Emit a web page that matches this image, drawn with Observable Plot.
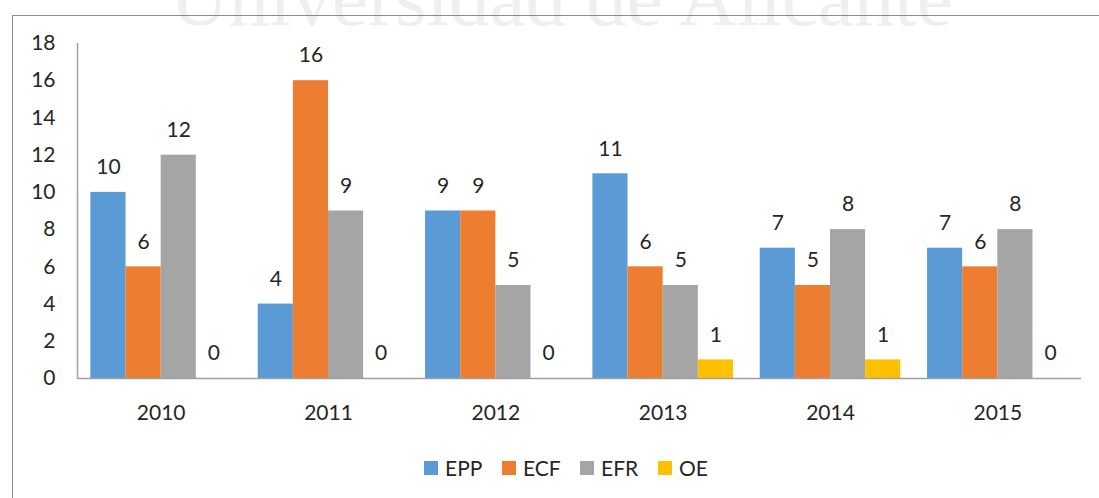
<!DOCTYPE html>
<html>
<head>
<meta charset="utf-8">
<script src="https://cdn.jsdelivr.net/npm/d3@7"></script>
<script src="https://cdn.jsdelivr.net/npm/@observablehq/plot@0.6"></script>
<style>
  body { margin: 0; background: #fff; }
  #wrap { position: relative; width: 1099px; height: 498px; overflow: hidden; font-family: Lato, "Open Sans", sans-serif; }
  #frame { position: absolute; left: 12px; top: 15px; right: -5px; bottom: -5px; border-top: 1.5px solid #8c8c8c; border-left: 1.5px solid #8c8c8c; }
  #watermark { position: absolute; left: 170px; top: -42px; font-family: "Liberation Serif", serif; font-size: 81px; line-height: 81px; color: #efefef; white-space: nowrap; }
  #chart { position: absolute; left: 0; top: 0; }
  #legend { position: absolute; left: 424px; top: 455px; display: flex; align-items: center; font-size: 21px; color: #262626; }
  #legend .item { width: 78px; display: flex; align-items: center; }
  #legend .sw { width: 14px; height: 14px; margin-right: 7px; }
</style>
</head>
<body>
<div id="wrap">
  <div id="watermark">Universidad de Alicante</div>
  <div id="frame"></div>
  <div id="chart"></div>
  <div id="legend"></div>
</div>
<script>
const years = ["2010", "2011", "2012", "2013", "2014", "2015"];
const series = ["EPP", "ECF", "EFR", "OE"];
const EPP = [10, 4, 9, 11, 7, 7];
const ECF = [6, 16, 9, 6, 5, 6];
const EFR = [12, 9, 5, 5, 8, 8];
const OE  = [0, 0, 0, 1, 1, 0];
const colors = ["#5B9BD5", "#ED7D31", "#A5A5A5", "#FFC000"];
const yTicks = [0, 2, 4, 6, 8, 10, 12, 14, 16, 18];

const valuesBySeries = { EPP, ECF, EFR, OE };
const data = years.flatMap((year, i) =>
  series.map((s, k) => ({ year, i, k, series: s, value: valuesBySeries[s][i] }))
);

const barW = 0.21;
const x1 = d => d.i - 0.42 + d.k * barW;
const x2 = d => x1(d) + barW;
const xm = d => x1(d) + barW / 2;

const chart = Plot.plot({
  width: 1099,
  height: 440,
  marginLeft: 77,
  marginRight: 18,
  marginTop: 43,
  marginBottom: 62,
  style: { background: "transparent", fontFamily: "Lato, 'Open Sans', sans-serif", color: "#262626" },
  x: { type: "linear", domain: [-0.5, 5.5] },
  y: { domain: [0, 18] },
  color: { domain: series, range: colors },
  marks: [
    Plot.rectY(data, { x1, x2, y: "value", fill: "series" }),
    Plot.ruleY([0], { stroke: "#a0a0a0", strokeWidth: 1.5 }),
    Plot.ruleX([-0.5], { stroke: "#a0a0a0", strokeWidth: 1.5 }),
    Plot.text(data, { x: xm, y: "value", text: d => String(d.value), dy: -25, fontSize: 21, fill: "#262626" }),
    Plot.axisY({ ticks: yTicks, tickSize: 0, tickPadding: 22, fontSize: 21, fill: "#262626", label: null, tickFormat: d => String(d) }),
    Plot.axisX({ ticks: d3.range(years.length), tickSize: 0, tickPadding: 27, fontSize: 21, fill: "#262626", label: null, tickFormat: i => years[i] })
  ]
});
document.getElementById("chart").appendChild(chart);

const legend = document.getElementById("legend");
series.forEach((s, k) => {
  const item = document.createElement("div");
  item.className = "item";
  const sw = document.createElement("span");
  sw.className = "sw";
  sw.style.background = colors[k];
  const t = document.createElement("span");
  t.textContent = s;
  item.appendChild(sw);
  item.appendChild(t);
  legend.appendChild(item);
});
</script>
</body>
</html>
